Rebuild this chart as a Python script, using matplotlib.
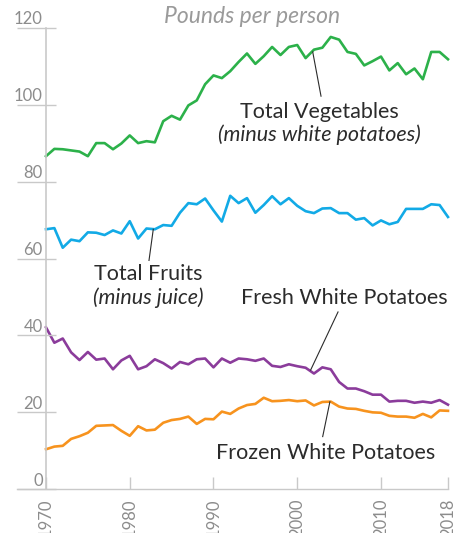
import numpy as np
import matplotlib
matplotlib.use('Agg')
from matplotlib import pyplot as plt
from matplotlib import transforms as mtransforms

plt.rcParams['font.family'] = ['Lato', 'DejaVu Sans']

years = np.arange(1970, 2019)

# pounds per person
vegetables = [86.6, 88.5, 88.4, 88.1, 87.8, 86.6, 90.0, 90.0, 88.4, 89.9,
              92.0, 90.0, 90.5, 90.2, 95.7, 97.1, 96.1, 99.8, 101.1, 105.3,
              107.6, 106.9, 108.7, 111.1, 113.3, 110.6, 112.6, 115.0, 112.9, 115.0,
              115.5, 112.1, 114.3, 114.8, 117.6, 116.9, 113.7, 113.2, 110.2, 111.3,
              112.5, 108.9, 110.8, 107.9, 109.4, 106.6, 113.7, 113.7, 111.8]
fruits = [67.6, 67.9, 62.8, 64.9, 64.5, 66.8, 66.7, 66.1, 67.3, 66.5,
          69.7, 65.2, 67.8, 67.6, 68.7, 68.5, 71.9, 74.4, 74.1, 75.6,
          72.5, 69.6, 76.3, 74.4, 75.7, 71.9, 73.9, 76.2, 74.1, 75.7,
          73.7, 72.3, 71.8, 73.0, 73.1, 71.8, 71.8, 70.1, 70.5, 68.6,
          69.9, 68.9, 69.5, 72.9, 72.9, 72.9, 74.1, 73.9, 70.8]
fresh_potatoes = [42.1, 38.1, 39.2, 35.6, 33.6, 35.7, 33.7, 34.0, 31.2, 33.5,
                  34.7, 31.2, 32.0, 33.8, 32.8, 31.4, 33.1, 32.5, 33.8, 34.0,
                  31.7, 34.0, 32.9, 34.0, 33.8, 33.4, 34.0, 32.1, 31.8, 32.5,
                  32.0, 31.6, 30.1, 31.7, 31.2, 27.9, 26.2, 26.2, 25.5, 24.6,
                  24.6, 22.8, 23.0, 23.0, 22.5, 22.8, 22.5, 23.2, 22.0]
frozen_potatoes = [10.4, 11.1, 11.3, 13.1, 13.8, 14.7, 16.5, 16.6, 16.7, 15.2,
                   13.9, 16.4, 15.3, 15.5, 17.3, 18.0, 18.3, 18.9, 17.0, 18.3,
                   18.2, 20.2, 19.6, 21.0, 21.9, 22.2, 23.8, 22.9, 23.0, 23.2,
                   22.9, 23.1, 21.8, 22.7, 22.8, 21.5, 21.0, 20.9, 20.4, 20.0,
                   19.9, 19.1, 18.9, 18.9, 18.6, 19.6, 18.7, 20.5, 20.4]

xticks = [1970, 1980, 1990, 2000, 2010, 2018]
yticks = [0, 20, 40, 60, 80, 100, 120]

grey = '#c9c9c9'
label_grey = '#8c8c8c'
ink = '#2b2b2b'
fs = 15.5

fig = plt.figure(figsize=(4.65, 5.33), dpi=100)
ax = fig.add_axes([0.0989, 0.082, 0.8645, 0.866])

ax.plot(years, vegetables, color='#2cb14a', lw=1.9, clip_on=False)
ax.plot(years, fruits, color='#12aae6', lw=1.9, clip_on=False)
ax.plot(years, fresh_potatoes, color='#8b3c9b', lw=1.9, clip_on=False)
ax.plot(years, frozen_potatoes, color='#f7931e', lw=1.9, clip_on=False)

ax.set_xlim(1970, 2018)
ax.set_ylim(0, 120)

for s in ['top', 'right', 'bottom']:
    ax.spines[s].set_visible(False)
ax.spines['left'].set_color(grey)
ax.spines['left'].set_linewidth(1.2)

# y ticks: short horizontal rules with the number sitting on top
yt = ax.get_yaxis_transform()
ax.hlines(yticks, -0.072, 0.025, transform=yt, color=grey, lw=1.0, clip_on=False)
ax.plot([-0.072, 1], [0, 0], transform=yt, color=grey, lw=1.0, clip_on=False)
lift = mtransforms.offset_copy(yt, fig=fig, x=0, y=2.5, units='points')
for v in yticks:
    ax.text(-0.008, v, str(v), transform=lift, ha='right', va='baseline',
            fontsize=12, color=label_grey)
ax.set_yticks([])

ax.set_xticks(xticks)
ax.set_xticklabels([str(t) for t in xticks], rotation=90, fontsize=12,
                   color=label_grey)
ax.tick_params(axis='x', direction='in', length=8.6, width=1.0, color=grey, pad=6.5)

fig.text(0.542, 1 - 23.3 / 533, 'Pounds per person', style='italic', fontsize=16.5,
         color='#9a9a9a', ha='center', va='baseline')

# labels and leader lines
ax.plot([2001.85, 2002.84], [113.7, 102.2], color=ink, lw=0.8)
ax.text(2002.7, 96.6, 'Total Vegetables', fontsize=fs, color=ink,
        ha='center', va='baseline')
ax.text(2002.7, 90.6, '(minus white potatoes)', fontsize=fs, style='italic',
        color=ink, ha='center', va='baseline')

ax.plot([1982.81, 1982.3], [67.6, 59.5], color=ink, lw=0.8)
ax.text(1982.2, 54.4, 'Total Fruits', fontsize=fs, color=ink,
        ha='center', va='baseline')
ax.text(1982.2, 48.1, '(minus juice)', fontsize=fs, style='italic',
        color=ink, ha='center', va='baseline')

ax.plot([2004.87, 2001.6], [46.1, 31.0], color=ink, lw=0.8)
ax.text(2005.6, 48.1, 'Fresh White Potatoes', fontsize=fs, color=ink,
        ha='center', va='baseline')

ax.plot([2003.9, 2003.04], [22.75, 13.7], color=ink, lw=0.8)
ax.text(2003.37, 7.9, 'Frozen White Potatoes', fontsize=fs, color=ink,
        ha='center', va='baseline')

fig.savefig('out.png', dpi=100)
